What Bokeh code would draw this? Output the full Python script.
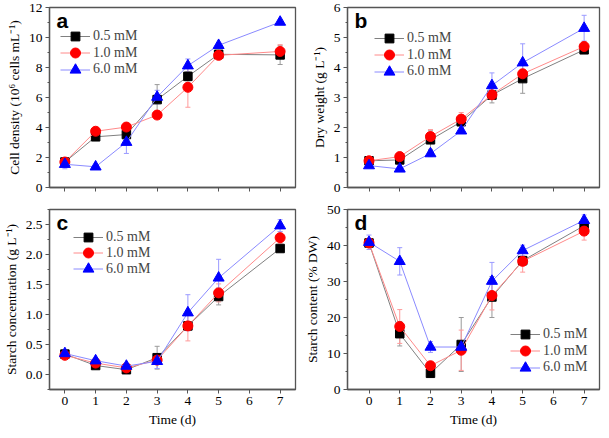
from bokeh.plotting import figure
from bokeh.layouts import gridplot
from bokeh.models import (ColumnDataSource, Whisker, TeeHead, Legend, LegendItem, Label,
                          Range1d, SingleIntervalTicker, NumeralTickFormatter,
                          CustomJSTickFormatter, BasicTickFormatter)
from bokeh.embed import file_html
from bokeh.resources import INLINE

# ---------------- data ----------------
days = [0, 1, 2, 3, 4, 5, 7]
series_labels = ["0.5 mM", "1.0 mM", "6.0 mM"]
x_label = "Time (d)"

# (a) cell density (10^6 cells/mL)
cell_05 = [1.70, 3.38, 3.53, 5.86, 7.41, 8.88, 8.84]
cell_10 = [1.70, 3.75, 4.03, 4.83, 6.68, 8.81, 9.07]
cell_60 = [1.55, 1.38, 3.02, 6.03, 8.12, 9.48, 11.03]
cell_05_err = [0.10, 0.10, 0.15, 1.00, 0.30, 0.15, 0.64]
cell_10_err = [0.10, 0.10, 0.10, 0.10, 1.33, 0.15, 0.45]
cell_60_err = [0.30, 0.10, 0.75, 0.45, 0.45, 0.15, 0.15]

# (b) dry weight (g/L)
dw_05 = [0.89, 0.92, 1.59, 2.19, 3.08, 3.63, 4.59]
dw_10 = [0.89, 1.03, 1.70, 2.28, 3.09, 3.79, 4.70]
dw_60 = [0.73, 0.62, 1.13, 1.89, 3.40, 4.16, 5.31]
dw_05_err = [0.05, 0.05, 0.32, 0.08, 0.26, 0.49, 0.10]
dw_10_err = [0.05, 0.05, 0.23, 0.22, 0.10, 0.15, 0.15]
dw_60_err = [0.05, 0.05, 0.10, 0.05, 0.42, 0.63, 0.43]

# (c) starch concentration (g/L)
sc_05 = [0.34, 0.15, 0.08, 0.28, 0.81, 1.30, 2.10]
sc_10 = [0.32, 0.19, 0.11, 0.24, 0.81, 1.36, 2.28]
sc_60 = [0.35, 0.23, 0.14, 0.22, 1.03, 1.61, 2.48]
sc_05_err = [0.03, 0.03, 0.03, 0.19, 0.05, 0.14, 0.03]
sc_10_err = [0.03, 0.03, 0.03, 0.05, 0.25, 0.15, 0.10]
sc_60_err = [0.03, 0.03, 0.03, 0.12, 0.30, 0.31, 0.10]

# (d) starch content (% DW)
st_05 = [40.7, 15.5, 4.5, 12.5, 25.7, 35.8, 45.5]
st_10 = [40.7, 17.5, 6.6, 10.9, 26.1, 35.6, 44.0]
st_60 = [40.9, 35.6, 11.8, 11.8, 30.1, 38.6, 47.0]
st_05_err = [1.0, 3.4, 0.5, 7.5, 5.7, 1.0, 1.0]
st_10_err = [1.0, 4.7, 0.5, 5.6, 4.0, 3.0, 2.5]
st_60_err = [2.0, 3.8, 1.5, 0.5, 5.2, 1.5, 1.5]

# ---------------- styles ----------------
MARKERS = ["square", "circle", "triangle"]
MSIZE = [8.5, 10, 11]
LEG_GH = [22, 25, 27]          # legend glyph box heights -> legend marker sizes
MCOL = ["#000000", "#ff0000", "#0000ff"]
LCOL = ["#808080", "#ff8a8a", "#8a8aff"]
ECOL = ["#9a9a9a", "#ff9a9a", "#9a9aff"]
SERIF = "Liberation Serif"
AXC = "#555555"
FH = 180


def make_panel(letter, ylabel, ys, errs, yr, interval, minor, fmt,
               xr, show_xlabels, leg_x, leg_rows, fw, borders):
    l, r, t, b = borders
    p = figure(frame_width=fw, frame_height=FH, output_backend="svg",
               toolbar_location=None, x_range=Range1d(*xr), y_range=Range1d(*yr),
               min_border_left=l, min_border_right=r, min_border_top=t,
               min_border_bottom=b)
    p.background_fill_color = "white"
    p.border_fill_color = "white"
    p.grid.visible = False
    p.outline_line_color = AXC
    p.outline_line_width = 1.3

    p.xaxis.ticker = SingleIntervalTicker(interval=1, num_minor_ticks=0)
    p.yaxis.ticker = SingleIntervalTicker(interval=interval, num_minor_ticks=minor)
    p.yaxis.formatter = fmt
    if show_xlabels:
        p.xaxis.axis_label = x_label
    else:
        p.xaxis.formatter = CustomJSTickFormatter(code="return ''")
    p.yaxis.axis_label = ylabel
    for ax in [p.xaxis[0], p.yaxis[0]]:
        ax.axis_line_color = AXC
        ax.axis_line_width = 1.3
        ax.major_tick_line_color = AXC
        ax.minor_tick_line_color = AXC
        ax.major_tick_in = 0
        ax.major_tick_out = 4
        ax.minor_tick_in = 0
        ax.minor_tick_out = 2
        ax.major_label_text_font = SERIF
        ax.major_label_text_font_size = "13.5px"
        ax.major_label_text_color = "black"
        ax.axis_label_text_font = SERIF
        ax.axis_label_text_font_size = "13.5px"
        ax.axis_label_text_font_style = "normal"
        ax.axis_label_text_color = "black"
        ax.major_label_standoff = 3
        ax.axis_label_standoff = 4

    for i in range(3):
        y = ys[i]
        e = errs[i]
        src = ColumnDataSource(dict(x=days, y=y,
                                    upper=[a + d for a, d in zip(y, e)],
                                    lower=[a - d for a, d in zip(y, e)]))
        w = Whisker(base="x", upper="upper", lower="lower", source=src,
                    line_color=ECOL[i], line_width=1,
                    upper_head=TeeHead(size=5, line_color=ECOL[i], line_width=1),
                    lower_head=TeeHead(size=5, line_color=ECOL[i], line_width=1))
        p.add_layout(w)
        lr = p.line("x", "y", source=src, line_color=LCOL[i], line_width=1)
        sr = p.scatter("x", "y", source=src, marker=MARKERS[i], size=MSIZE[i],
                       fill_color=MCOL[i], line_color=MCOL[i])
        gh = LEG_GH[i]
        leg = Legend(items=[LegendItem(label=series_labels[i], renderers=[lr, sr])],
                     location=(leg_x, leg_rows[i] - gh / 2), margin=0, padding=0,
                     spacing=0, glyph_width=30, glyph_height=gh, label_height=gh,
                     label_standoff=3, label_text_font=SERIF,
                     label_text_font_size="14px", border_line_color=None,
                     background_fill_alpha=0)
        p.add_layout(leg, "center")

    p.add_layout(Label(x=xr[0], y=yr[1], x_offset=7, y_offset=-1, text=letter,
                       text_font="Liberation Sans", text_font_style="bold",
                       text_font_size="21px", text_baseline="top",
                       text_color="black"))
    return p


def rows_from_top(first, pitch=16.5):
    return [FH - first - k * pitch for k in range(3)]


def rows_from_bottom(last, pitch=16.5):
    return [last + (2 - k) * pitch for k in range(3)]


pa = make_panel("a", "Cell density (10⁶ cells mL⁻¹)",
                [cell_05, cell_10, cell_60], [cell_05_err, cell_10_err, cell_60_err],
                (0, 12), 2, 2, BasicTickFormatter(), (-0.5, 7.5), False,
                11, rows_from_top(29), 246, (40, 6, 7, 13))
pb = make_panel("b", "Dry weight (g L⁻¹)",
                [dw_05, dw_10, dw_60], [dw_05_err, dw_10_err, dw_60_err],
                (0, 6), 1, 2, BasicTickFormatter(), (-0.7, 7.5), False,
                27, rows_from_top(31), 252, (44, 4, 7, 13))
pc = make_panel("c", "Starch concentration (g L⁻¹)",
                [sc_05, sc_10, sc_60], [sc_05_err, sc_10_err, sc_60_err],
                (-0.25, 2.75), 0.5, 2, NumeralTickFormatter(format="0.0"), (-0.5, 7.5), True,
                24, rows_from_top(28, 15.8), 246, (40, 6, 9, 31))
pd = make_panel("d", "Starch content (% DW)",
                [st_05, st_10, st_60], [st_05_err, st_10_err, st_60_err],
                (0, 50), 10, 2, BasicTickFormatter(), (-0.7, 7.5), True,
                163, rows_from_bottom(22), 252, (44, 4, 9, 31))

grid = gridplot([[pa, pb], [pc, pd]], toolbar_location=None)

open("out.html", "w").write(file_html(grid, INLINE))
